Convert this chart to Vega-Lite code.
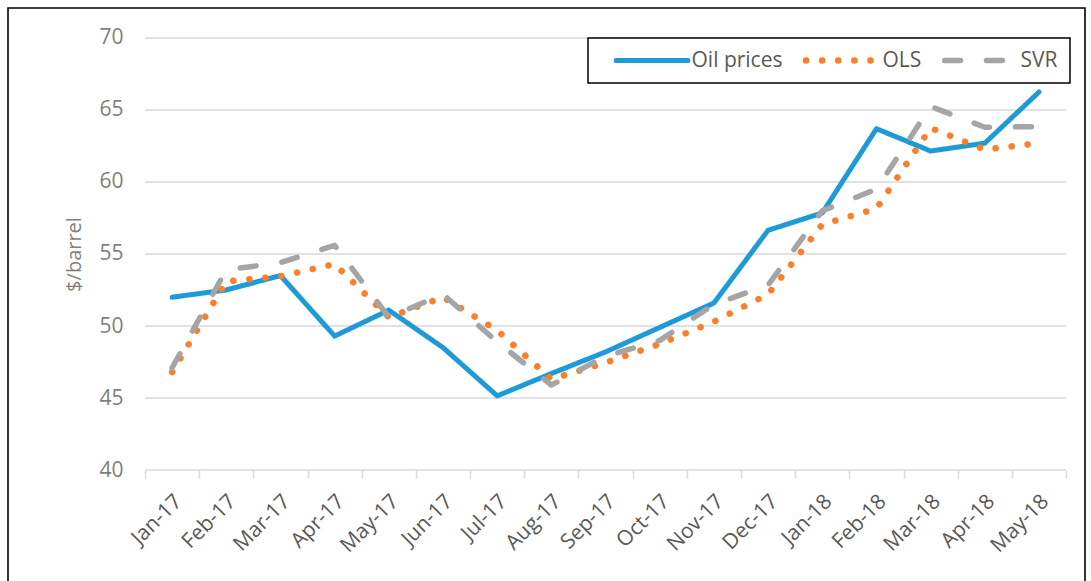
{
  "$schema": "https://vega.github.io/schema/vega-lite/v6.json",
  "width": 1077,
  "height": 580,
  "autosize": {"type": "none"},
  "padding": {"left": 8, "top": 8, "right": 6, "bottom": 0},
  "background": "white",
  "config": {
    "view": {"stroke": "black", "strokeWidth": 1.6},
    "font": "Open Sans"
  },
  "datasets": {
    "grid": [{"v": 40}, {"v": 45}, {"v": 50}, {"v": 55}, {"v": 60}, {"v": 65}, {"v": 70}],
    "prices": [
      {"t": 0, "month": "Jan-17", "series": "Oil prices", "value": 52.0},
      {"t": 1, "month": "Feb-17", "series": "Oil prices", "value": 52.5},
      {"t": 2, "month": "Mar-17", "series": "Oil prices", "value": 53.5},
      {"t": 3, "month": "Apr-17", "series": "Oil prices", "value": 49.3},
      {"t": 4, "month": "May-17", "series": "Oil prices", "value": 51.1},
      {"t": 5, "month": "Jun-17", "series": "Oil prices", "value": 48.5},
      {"t": 6, "month": "Jul-17", "series": "Oil prices", "value": 45.15},
      {"t": 7, "month": "Aug-17", "series": "Oil prices", "value": 46.7},
      {"t": 8, "month": "Sep-17", "series": "Oil prices", "value": 48.2},
      {"t": 9, "month": "Oct-17", "series": "Oil prices", "value": 49.9},
      {"t": 10, "month": "Nov-17", "series": "Oil prices", "value": 51.6},
      {"t": 11, "month": "Dec-17", "series": "Oil prices", "value": 56.65},
      {"t": 12, "month": "Jan-18", "series": "Oil prices", "value": 57.85},
      {"t": 13, "month": "Feb-18", "series": "Oil prices", "value": 63.7},
      {"t": 14, "month": "Mar-18", "series": "Oil prices", "value": 62.15},
      {"t": 15, "month": "Apr-18", "series": "Oil prices", "value": 62.7},
      {"t": 16, "month": "May-18", "series": "Oil prices", "value": 66.25},
      {"t": 0, "month": "Jan-17", "series": "OLS", "value": 46.8},
      {"t": 1, "month": "Feb-17", "series": "OLS", "value": 53.1},
      {"t": 2, "month": "Mar-17", "series": "OLS", "value": 53.45},
      {"t": 3, "month": "Apr-17", "series": "OLS", "value": 54.3},
      {"t": 4, "month": "May-17", "series": "OLS", "value": 50.6},
      {"t": 5, "month": "Jun-17", "series": "OLS", "value": 52.0},
      {"t": 6, "month": "Jul-17", "series": "OLS", "value": 49.7},
      {"t": 7, "month": "Aug-17", "series": "OLS", "value": 46.3},
      {"t": 8, "month": "Sep-17", "series": "OLS", "value": 47.45},
      {"t": 9, "month": "Oct-17", "series": "OLS", "value": 48.75},
      {"t": 10, "month": "Nov-17", "series": "OLS", "value": 50.3},
      {"t": 11, "month": "Dec-17", "series": "OLS", "value": 52.2},
      {"t": 12, "month": "Jan-18", "series": "OLS", "value": 57.05},
      {"t": 13, "month": "Feb-18", "series": "OLS", "value": 58.15},
      {"t": 14, "month": "Mar-18", "series": "OLS", "value": 63.75},
      {"t": 15, "month": "Apr-18", "series": "OLS", "value": 62.25},
      {"t": 16, "month": "May-18", "series": "OLS", "value": 62.7},
      {"t": 0, "month": "Jan-17", "series": "SVR", "value": 47.1},
      {"t": 1, "month": "Feb-17", "series": "SVR", "value": 53.9},
      {"t": 2, "month": "Mar-17", "series": "SVR", "value": 54.4},
      {"t": 3, "month": "Apr-17", "series": "SVR", "value": 55.6},
      {"t": 4, "month": "May-17", "series": "SVR", "value": 50.6},
      {"t": 5, "month": "Jun-17", "series": "SVR", "value": 52.2},
      {"t": 6, "month": "Jul-17", "series": "SVR", "value": 48.9},
      {"t": 7, "month": "Aug-17", "series": "SVR", "value": 45.9},
      {"t": 8, "month": "Sep-17", "series": "SVR", "value": 47.9},
      {"t": 9, "month": "Oct-17", "series": "SVR", "value": 49.0},
      {"t": 10, "month": "Nov-17", "series": "SVR", "value": 51.5},
      {"t": 11, "month": "Dec-17", "series": "SVR", "value": 52.85},
      {"t": 12, "month": "Jan-18", "series": "SVR", "value": 58.0},
      {"t": 13, "month": "Feb-18", "series": "SVR", "value": 59.5},
      {"t": 14, "month": "Mar-18", "series": "SVR", "value": 65.25},
      {"t": 15, "month": "Apr-18", "series": "SVR", "value": 63.8},
      {"t": 16, "month": "May-18", "series": "SVR", "value": 63.85}
    ]
  },
  "layer": [
    {
      "data": {"name": "grid"},
      "mark": {"type": "rule", "color": "#d9d9d9", "strokeWidth": 1.4},
      "encoding": {
        "x": {"datum": -0.5, "type": "quantitative"},
        "x2": {"datum": 16.5},
        "y": {"field": "v", "type": "quantitative"}
      }
    },
    {
      "data": {"name": "prices"},
      "mark": {"type": "line", "strokeCap": "round", "strokeJoin": "round"},
      "encoding": {
        "x": {
          "field": "t",
          "type": "quantitative",
          "scale": {"domain": [-3.029, 16.849], "nice": false, "zero": false},
          "axis": {
            "values": [-1, 0, 1, 2, 3, 4, 5, 6, 7, 8, 9, 10, 11, 12, 13, 14, 15, 16],
            "offset": -118,
            "domain": false,
            "grid": false,
            "ticks": true,
            "tickSize": 8,
            "tickColor": "#d9d9d9",
            "tickWidth": 1.5,
            "tickOffset": 27.09,
            "labelOffset": -21,
            "labelAngle": -45,
            "labelAlign": "right",
            "labelBaseline": "middle",
            "labelPadding": 20,
            "labelFont": "Open Sans",
            "labelFontSize": 21,
            "labelColor": "#595959",
            "labelOverlap": false,
            "labelFlush": false,
            "labelBound": false,
            "labelExpr": "['Jan-17','Feb-17','Mar-17','Apr-17','May-17','Jun-17','Jul-17','Aug-17','Sep-17','Oct-17','Nov-17','Dec-17','Jan-18','Feb-18','Mar-18','Apr-18','May-18'][datum.value] || ''",
            "title": null
          }
        },
        "y": {
          "field": "value",
          "type": "quantitative",
          "scale": {"domain": [31.806, 72.083], "nice": false, "zero": false},
          "axis": {
            "values": [40, 45, 50, 55, 60, 65, 70],
            "offset": -137,
            "domain": false,
            "ticks": false,
            "tickSize": 0,
            "grid": false,
            "labelFont": "Open Sans",
            "labelFontSize": 21,
            "labelColor": "#7f7f7f",
            "labelPadding": 22,
            "title": "$/barrel",
            "titleFont": "Open Sans",
            "titleFontSize": 20,
            "titleFontWeight": "normal",
            "titleColor": "#7f7f7f",
            "titleX": -71,
            "titleY": 246,
            "titleAngle": -90,
            "titleAlign": "center",
            "titleBaseline": "middle"
          }
        },
        "color": {
          "field": "series",
          "type": "nominal",
          "scale": {"domain": ["Oil prices", "OLS", "SVR"], "range": ["#1E9BD7", "#FB7E29", "#A5A5A5"]},
          "legend": {
            "orient": "none", "legendX": 580, "legendY": 30, "direction": "horizontal",
            "title": " ", "titleOrient": "left", "titleFontSize": 1, "titlePadding": 13,
            "padding": 12.5, "strokeColor": "black", "fillColor": "white",
            "symbolType": "stroke", "symbolSize": 5184, "symbolStrokeWidth": 5, "clipHeight": 20,
            "labelFont": "Open Sans", "labelFontSize": 21, "labelColor": "#595959", "labelOffset": 1,
            "columnPadding": 20,
            "encode": {
              "legend": {"update": {"strokeWidth": {"value": 1.5}}},
              "symbols": {"update": {"strokeCap": {"value": "round"}, "strokeWidth": {"signal": "datum.value === 'OLS' ? 6.5 : datum.value === 'SVR' ? 5.5 : 5"}}}
            }
          }
        },
        "strokeDash": {
          "field": "series",
          "type": "nominal",
          "scale": {"domain": ["Oil prices", "OLS", "SVR"], "range": [[1, 0], [0.1, 16], [16, 26]]}
        },
        "strokeWidth": {
          "field": "series",
          "type": "nominal",
          "scale": {"type": "ordinal", "domain": ["Oil prices", "OLS", "SVR"], "range": [5, 6.5, 5.5]},
          "legend": null
        }
      }
    }
  ]
}
